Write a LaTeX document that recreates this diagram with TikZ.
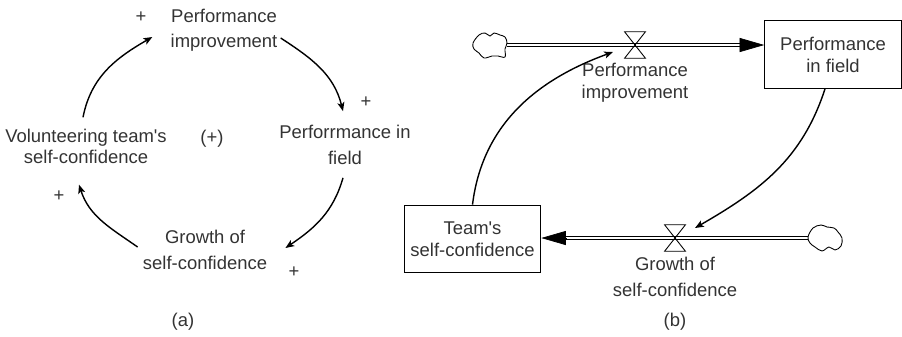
\documentclass[tikz,border=0pt]{standalone}
\usepackage{fontspec}
\setmainfont{Liberation Sans}
\usepackage{tikz}
\usetikzlibrary{positioning, arrows.meta}

\tikzset{
  lbl/.style={align=center, inner sep=0pt, text=black!80,
    font=\fontsize{10.5}{14.5}\selectfont},
  stock/.style={draw, line width=0.6pt, align=center, text=black!80,
    minimum width=77.7pt, minimum height=38.5pt,
    font=\fontsize{10.5}{12.5}\selectfont},
  valve/.style={minimum width=11.5pt, minimum height=14.7pt, inner sep=0pt},
  cloudnode/.style={minimum width=19pt, minimum height=14.5pt, inner sep=0pt},
  cld/.style={-{Stealth[length=5pt, width=4pt, inset=1.2pt]}, line width=0.8pt},
  pipe/.style={double, line width=0.55pt, double distance=1.2pt},
  pipetip/.style={-{Triangle[length=14pt, width=8pt]}, line width=0.4pt},
}

\begin{document}
\begin{tikzpicture}[x=0.02cm, y=-0.02cm]
\useasboundingbox (0,0) rectangle (902,336);

%% causal loop
\node[lbl] (impr) at (224,30) {Performance\\improvement};
\node[lbl] (field) at (345,145) {Perforrmance in\\field};
\node[lbl] (grow) at (205,250) {Growth of\\self-confidence};
\node[lbl, font=\fontsize{10.5}{12}\selectfont] (vol) at (86,146) {Volunteering team\textquotesingle s\\self-confidence};
\node[lbl] (loop) at (212,139) {(+)};
\node[lbl] (p1) at (141,17) {+};
\node[lbl] (p2) at (366,102) {+};
\node[lbl] (p3) at (294,272) {+};
\node[lbl] (p4) at (59,196) {+};

\draw[cld] ([shift={(-3,-11)}]vol.north) to[out=79, in=210] ([shift={(-18,7)}]impr.west);
\draw[cld] ([shift={(3,8)}]impr.east) to[out=-33, in=104] ([shift={(-2,-14)}]field.north);
\draw[cld] ([shift={(-2,13)}]field.south) to[out=-106, in=34] ([shift={(18,-2)}]grow.east);
\draw[cld] ([shift={(-5,-3)}]grow.west) to[out=145, in=-72] ([shift={(-7,21)}]vol.south);

\node[lbl] (capa) at (183,322) {(a)};

%% stock and flow
\node[cloudnode] (src) at (490,45) {};
\node[valve] (v1) at (635,45) {};
\node[stock] (pif) at (833,54.5) {Performance\\in field};
\node[lbl, font=\fontsize{10.5}{12.5}\selectfont, below=2.8pt of v1] (flow1) {Performance\\improvement};

\node[stock] (tsc) at (472.5,239) {Team\textquotesingle s\\self-confidence};
\node[valve] (v2) at (675,238) {};
\node[cloudnode] (snk) at (825,238) {};
\node[lbl, below=3.4pt of v2] (flow2) {Growth of\\self-confidence};

\coordinate (in1) at (pif.west |- src);
\coordinate (in2) at (tsc.east |- snk);

% pipes
\draw[pipe] (src.east) -- ([xshift=-13pt]in1);
\draw[pipetip] ([xshift=-14pt]in1) -- (in1);
\draw[pipe] (snk.west) -- ([xshift=13pt]in2);
\draw[pipetip] ([xshift=14pt]in2) -- (in2);

% valves
\draw[line width=0.5pt] (v1.north west) -- (v1.north east) -- (v1.south west) -- (v1.south east) -- cycle;
\draw[line width=0.5pt] (v2.north west) -- (v2.north east) -- (v2.south west) -- (v2.south east) -- cycle;

% clouds
\draw[line width=0.5pt, shift={(src.center)}] plot[smooth cycle, tension=0.6] coordinates
  {(-17,-2) (-11,-10) (-5,-12) (0,-9) (4,-12) (10,-10) (15,-8) (17,-2) (15,4) (15,12) (8,11) (2,11) (-6,13) (-11,8) (-16,4)};
\draw[line width=0.5pt, shift={(snk.center)}] plot[smooth cycle, tension=0.6] coordinates
  {(-17,-1) (-12,-10) (-4,-13) (2,-11) (9,-10) (13,-6) (17,0) (16,8) (10,12) (4,9) (-3,13) (-10,9) (-15,5)};

% links
\draw[cld] (tsc.north) to[out=83, in=200] ([shift={(-22,7)}]v1.center);
\draw[cld] ([shift={(-8,0)}]pif.south) to[out=-108, in=30] ([shift={(20,-10)}]v2.center);

\node[lbl] (capb) at (675,322) {(b)};
\end{tikzpicture}
\end{document}
